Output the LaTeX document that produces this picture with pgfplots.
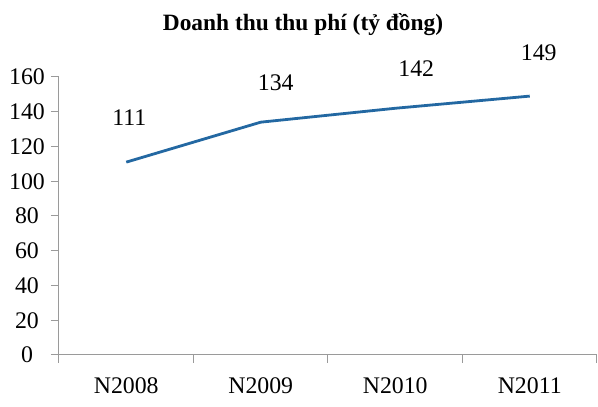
\documentclass[border=0pt]{standalone}
\usepackage{fontspec}
\setmainfont{Liberation Serif}
\usepackage{pgfplots}
\usepackage{pgfplotstable}
\pgfplotsset{compat=1.18}
\definecolor{lineblue}{HTML}{2368A2}
\definecolor{axgray}{HTML}{9A9A9A}
\pgfplotstableread{
x y dx dy
0 111 1.5 22.25
1 134 7.5 19.75
2 142 10.5 19.9
3 149 4.5 21.8
}\datatable
\begin{document}
\begin{tikzpicture}
\begin{axis}[
  scale only axis,
  width=269pt, height=139pt,
  xmin=-0.5, xmax=3.5,
  ymin=0, ymax=160,
  axis x line=bottom, axis y line=left,
  axis line style={draw=axgray, line width=0.5pt, -},
  xtick={0,1,2,3},
  xticklabels={N2008,N2009,N2010,N2011},
  minor xtick={-0.5,0.5,1.5,2.5,3.5},
  major x tick style={draw=none},
  minor x tick style={draw=axgray, line width=0.5pt},
  minor tick length=4pt,
  ytick={0,20,...,160},
  y tick style={draw=axgray, line width=0.5pt},
  major tick length=4pt,
  tick align=outside,
  /pgf/number format/assume math mode=true,
  ticklabel style={font=\fontsize{11.9}{13}\selectfont, text=black},
  yticklabel style={anchor=center, xshift=-12pt},
  xticklabel style={anchor=center, yshift=-11.5pt},
  clip=false,
  nodes near coords,
  point meta=explicit symbolic,
  visualization depends on={\thisrow{dx} \as \dx},
  visualization depends on={\thisrow{dy} \as \dy},
  nodes near coords style={anchor=center, xshift=\dx pt, yshift=\dy pt, font=\fontsize{11.9}{13}\selectfont, text=black},
]
\addplot[color=lineblue, line width=1.4pt, mark=none] table[x=x, y=y, meta=y] {\datatable};
\coordinate (sw) at (rel axis cs:0,0);
\coordinate (ne) at (rel axis cs:1,1);
\end{axis}
\path (sw) ++(122pt,165pt) node[font=\bfseries\fontsize{11.7}{13}\selectfont] {Doanh thu thu phí (tỷ đồng)};
\pgfresetboundingbox
\path ([xshift=-29.5pt,yshift=-25.5pt]sw) rectangle ([xshift=0.5pt,yshift=38.5pt]ne);
\end{tikzpicture}
\end{document}
